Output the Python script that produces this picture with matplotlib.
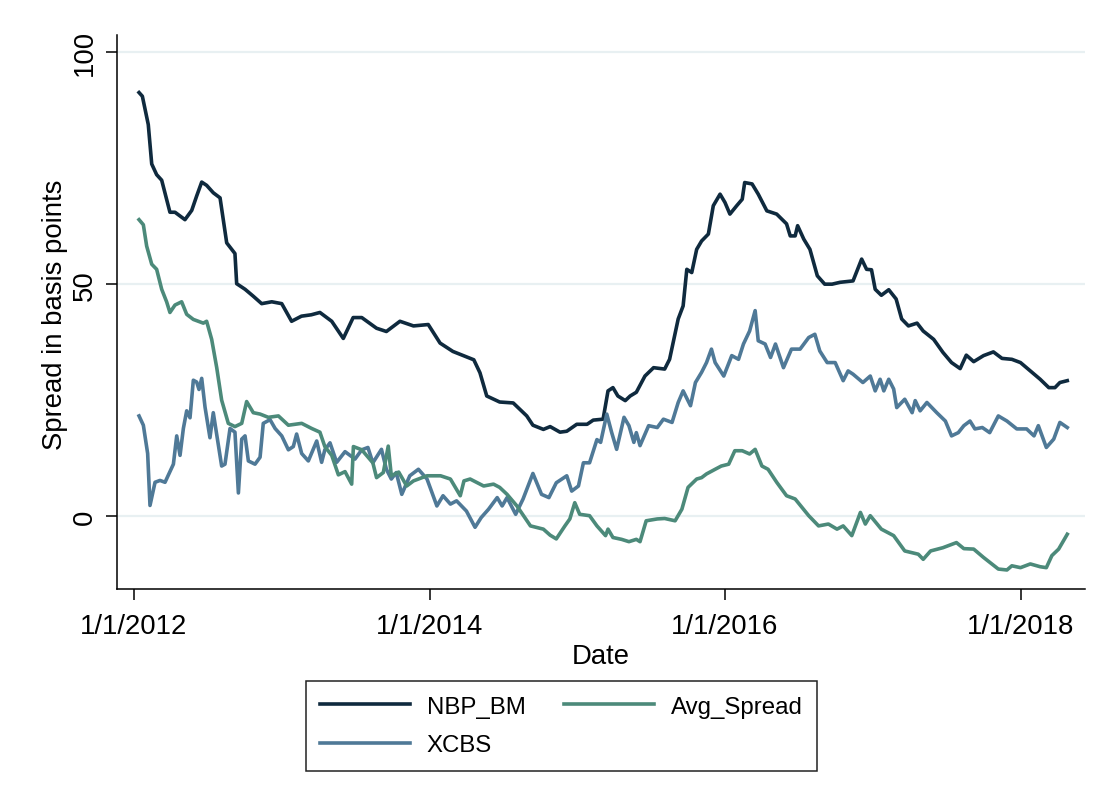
import numpy as np
import pandas as pd
import matplotlib
matplotlib.use("Agg")
from matplotlib import pyplot as plt

plt.rcParams['font.family'] = ['Liberation Sans', 'DejaVu Sans']

# months since 1/1/2012, values in basis points
nbp_months = [0.41, 0.68, 1.16, 1.44, 1.84, 2.25, 2.92, 3.33, 4.14, 4.69, 5.09, 5.5, 5.9, 6.44, 6.99,
              7.53, 8.2, 8.34, 9.02, 9.69, 10.37, 11.19, 12.0, 12.8, 13.6, 14.4, 15.1, 16.06, 17.0, 17.8,
              18.5, 19.7, 20.5, 21.6, 22.7, 23.9, 24.86, 25.9, 27.6, 28.1, 28.65, 29.7, 30.8, 31.9, 32.4,
              33.25, 33.8, 34.6, 35.15, 35.96, 36.8, 37.3, 38.1, 38.5, 38.9, 39.3, 39.9, 40.3, 40.8, 41.5,
              42.2, 43.1, 43.5, 44.2, 44.6, 44.9, 45.3, 45.7, 46.1, 46.65, 47.05, 47.6, 48.0, 48.4, 48.95,
              49.4, 49.6, 50.2, 50.7, 51.4, 52.2, 53.0, 53.3, 53.7, 53.9, 54.4, 54.9, 55.5, 56.1, 56.7,
              57.35, 58.4, 59.1, 59.5, 59.9, 60.2, 60.7, 61.3, 61.9, 62.35, 62.9, 63.6, 64.1, 64.95, 65.7,
              66.4, 67.1, 67.6, 68.2, 69.0, 69.8, 70.5, 71.3, 72.0, 72.8, 73.6, 74.3, 74.8, 75.2, 75.8]
nbp_bm = [91.3, 90.5, 84.4, 75.9, 73.6, 72.4, 65.5, 65.5, 63.9, 65.9, 69.0, 72.0, 71.3, 69.7, 68.6,
          58.9, 56.6, 50.1, 48.9, 47.4, 45.8, 46.2, 45.8, 42.0, 43.1, 43.4, 43.9, 42.0, 38.3, 42.8,
          42.8, 40.5, 39.8, 42.0, 41.0, 41.3, 37.3, 35.5, 33.7, 30.9, 25.9, 24.6, 24.4, 21.6, 19.6,
          18.7, 19.3, 18.1, 18.3, 19.8, 19.8, 20.7, 20.9, 27.0, 27.7, 25.9, 24.9, 25.9, 26.7, 30.2,
          32.0, 31.7, 33.8, 42.5, 45.3, 53.2, 52.5, 57.5, 59.3, 60.8, 66.9, 69.4, 67.6, 65.1, 66.9,
          68.3, 71.9, 71.6, 69.4, 65.8, 65.1, 63.0, 60.4, 60.4, 62.6, 59.7, 57.5, 51.8, 50.0, 50.0,
          50.4, 50.7, 55.4, 53.2, 53.1, 48.9, 47.6, 48.8, 46.8, 42.5, 41.0, 41.6, 39.9, 38.1, 35.3,
          33.1, 31.8, 34.7, 33.3, 34.6, 35.4, 34.0, 33.8, 33.1, 31.3, 29.5, 27.7, 27.7, 28.8, 29.2]

avg_months = [0.41, 0.76, 1.03, 1.44, 1.84, 2.25, 2.65, 2.92, 3.33, 3.87, 4.28, 4.82, 5.63, 5.9, 6.31,
              6.72, 7.12, 7.66, 8.2, 8.75, 9.15, 9.69, 10.24, 10.91, 11.73, 12.54, 13.62, 14.43, 15.1, 15.5,
              16.06, 16.6, 17.14, 17.68, 17.82, 18.5, 19.4, 19.7, 20.25, 20.65, 20.9, 21.5, 22.15, 22.7, 23.8,
              24.9, 25.7, 26.5, 26.8, 27.3, 28.4, 29.2, 29.7, 30.3, 31.1, 32.2, 33.25, 33.8, 34.3, 35.0,
              35.4, 35.8, 36.2, 37.0, 37.6, 38.3, 38.5, 38.9, 39.6, 40.2, 40.8, 41.1, 41.6, 42.5, 43.1,
              43.95, 44.5, 45.0, 45.7, 46.1, 46.5, 47.2, 47.7, 48.3, 48.8, 49.4, 50.0, 50.45, 51.0, 51.5,
              52.2, 53.0, 53.7, 54.8, 55.6, 56.4, 57.1, 57.6, 58.3, 59.0, 59.4, 59.8, 60.7, 61.7, 62.6,
              63.7, 64.1, 64.7, 65.7, 66.8, 67.4, 68.2, 69.0, 70.2, 70.9, 71.3, 72.0, 72.8, 73.6, 74.1,
              74.55, 75.1, 75.8]
avg_spread = [63.9, 62.8, 58.2, 54.3, 53.2, 48.9, 46.2, 43.9, 45.5, 46.2, 43.5, 42.4, 41.6, 42.0, 38.1,
              32.0, 25.0, 20.0, 19.3, 20.0, 24.7, 22.3, 22.0, 21.3, 21.6, 19.6, 20.0, 18.9, 18.1, 15.0,
              13.1, 8.9, 9.6, 6.9, 15.0, 14.3, 11.5, 8.3, 9.4, 15.1, 8.7, 9.5, 6.5, 7.6, 8.7,
              8.7, 8.0, 4.4, 7.6, 8.0, 6.5, 6.9, 6.2, 4.7, 2.2, -2.1, -2.8, -4.1, -4.9, -2.1,
              -0.6, 2.9, 0.4, 0.1, -2.1, -4.2, -2.8, -4.6, -5.0, -5.5, -5.0, -5.5, -1.0, -0.6, -0.5,
              -1.0, 1.5, 6.2, 8.0, 8.3, 9.1, 10.1, 10.8, 11.2, 14.1, 14.1, 13.4, 14.4, 10.8, 10.1,
              7.3, 4.4, 3.7, 0.1, -2.1, -1.7, -2.8, -2.1, -4.2, 0.8, -1.7, 0.1, -2.8, -4.2, -7.5,
              -8.2, -9.3, -7.5, -6.8, -5.7, -7.0, -7.1, -8.9, -11.4, -11.6, -10.7, -11.1, -10.3, -10.9, -11.1,
              -8.5, -7.1, -3.9]

xcbs_months = [0.41, 0.76, 1.11, 1.3, 1.71, 2.11, 2.52, 2.92, 3.2, 3.47, 3.74, 4.01, 4.28, 4.55, 4.82,
               5.09, 5.28, 5.5, 5.77, 6.17, 6.44, 7.12, 7.39, 7.8, 8.2, 8.48, 8.75, 9.02, 9.29, 9.83,
               10.24, 10.5, 11.05, 11.46, 12.0, 12.54, 12.94, 13.21, 13.62, 14.16, 14.84, 15.24, 15.5, 15.92, 16.46,
               17.14, 17.95, 18.5, 19.0, 19.4, 20.1, 20.5, 20.9, 21.3, 21.75, 22.4, 23.1, 23.8, 24.6, 25.1,
               25.7, 26.2, 27.0, 27.7, 28.2, 28.8, 29.5, 29.9, 30.3, 31.0, 31.6, 32.4, 33.1, 33.7, 34.3,
               35.15, 35.55, 36.1, 36.5, 37.0, 37.6, 37.9, 38.4, 38.8, 39.2, 39.8, 40.2, 40.6, 40.8, 41.1,
               41.8, 42.5, 43.0, 43.7, 44.2, 44.6, 45.2, 45.6, 46.1, 46.5, 46.9, 47.2, 47.9, 48.55, 49.1,
               49.5, 50.0, 50.45, 50.7, 51.26, 51.7, 52.1, 52.75, 53.4, 54.1, 54.8, 55.3, 55.7, 56.3, 56.95,
               57.6, 58.0, 58.4, 59.2, 59.8, 60.2, 60.6, 60.9, 61.3, 61.7, 61.95, 62.6, 63.2, 63.45, 63.85,
               64.4, 65.2, 65.9, 66.4, 66.95, 67.4, 67.9, 68.3, 68.9, 69.5, 70.2, 70.9, 71.7, 72.5, 73.1,
               73.45, 74.1, 74.7, 75.2, 75.8]
xcbs = [21.6, 19.6, 13.5, 2.3, 7.3, 7.7, 7.3, 9.6, 11.2, 17.3, 13.1, 18.9, 22.7, 21.2, 29.3,
        28.9, 27.3, 29.7, 23.5, 16.9, 22.3, 10.8, 11.2, 18.9, 18.1, 5.0, 16.6, 17.3, 11.9, 11.2,
        12.7, 20.0, 20.8, 18.9, 17.3, 14.3, 15.0, 17.7, 13.5, 11.9, 16.2, 11.6, 14.3, 15.8, 11.6,
        13.9, 12.3, 14.3, 14.8, 11.5, 14.4, 10.1, 8.0, 9.4, 4.7, 8.7, 10.1, 8.0, 2.2, 4.4,
        2.6, 3.3, 1.1, -2.4, -0.3, 1.5, 4.0, 2.2, 4.0, 0.4, 3.7, 9.2, 4.7, 4.0, 7.2,
        8.7, 5.4, 6.5, 11.5, 11.5, 16.5, 15.9, 22.0, 18.0, 14.4, 21.3, 19.5, 15.9, 18.0, 15.2,
        19.5, 19.1, 20.9, 20.2, 24.5, 27.0, 23.8, 28.8, 31.0, 33.1, 36.0, 33.1, 30.2, 34.6, 33.8,
        37.1, 39.9, 44.3, 37.8, 37.1, 34.2, 37.1, 32.0, 36.0, 36.0, 38.5, 39.2, 35.6, 33.1, 33.1,
        29.2, 31.3, 30.6, 28.8, 30.2, 27.0, 29.5, 27.0, 29.5, 27.4, 23.4, 25.2, 22.3, 24.9, 22.7,
        24.5, 22.3, 20.5, 17.3, 18.0, 19.5, 20.5, 18.8, 19.1, 18.0, 21.6, 20.5, 18.8, 18.8, 17.3,
        19.5, 14.8, 16.6, 20.2, 19.1]

tick_dates = ["2012-01-01", "2014-01-01", "2016-01-01", "2018-01-01"]
tick_labels = ["1/1/2012", "1/1/2014", "1/1/2016", "1/1/2018"]

start = pd.Timestamp("2012-01-01")

def to_dates(months):
    return start + pd.to_timedelta(np.array(months) * 30.4375, unit="D")

c_nbp = "#0f2a3e"
c_avg = "#4c8a7a"
c_xcbs = "#4f7997"

fig = plt.figure(figsize=(11.13, 8.03), dpi=100)
ax = fig.add_axes([117 / 1113, 1 - 590 / 803, (1085 - 117) / 1113, (590 - 36) / 803])

for y in [0, 50, 100]:
    ax.axhline(y, color="#e8f0f2", lw=1.6, zorder=0)

l1, = ax.plot(to_dates(nbp_months), nbp_bm, color=c_nbp, lw=2.6, label="NBP_BM")
l3, = ax.plot(to_dates(xcbs_months), xcbs, color=c_xcbs, lw=2.6, label="XCBS")
l2, = ax.plot(to_dates(avg_months), avg_spread, color=c_avg, lw=2.6, label="Avg_Spread")

ax.set_xlim(pd.Timestamp("2011-11-20"), pd.Timestamp("2018-06-09"))
ax.set_ylim(-15.7, 103.7)

ax.spines["top"].set_visible(False)
ax.spines["right"].set_visible(False)
ax.spines["left"].set_linewidth(1.1)
ax.spines["bottom"].set_linewidth(1.1)

ax.set_xticks(pd.to_datetime(tick_dates))
ax.set_xticklabels(tick_labels)
ax.set_yticks([0, 50, 100])
ax.set_yticklabels(["0", "50", "100"], rotation=90, va="center")
ax.tick_params(axis="both", length=8, width=1.1, labelsize=19.8)
ax.tick_params(axis="x", pad=9)
ax.tick_params(axis="y", pad=6)

ax.set_xlabel("Date", fontsize=19.8, labelpad=3)
fig.text(55 / 1113, 1 - 315 / 803, "Spread in basis points", rotation=90,
         ha="center", va="center", fontsize=19.8)

leg = fig.legend(handles=[l1, l3, l2], ncol=2, loc="center",
                 bbox_to_anchor=(561.5 / 1113, 1 - 727 / 803), bbox_transform=fig.transFigure,
                 fontsize=17.3, handlelength=3.75, handletextpad=0.7, columnspacing=1.6,
                 labelspacing=0.7, borderpad=0.6, fancybox=False, framealpha=1)
leg.get_frame().set_edgecolor("#222222")
leg.get_frame().set_linewidth(1.1)

fig.savefig("out.png", dpi=100)
